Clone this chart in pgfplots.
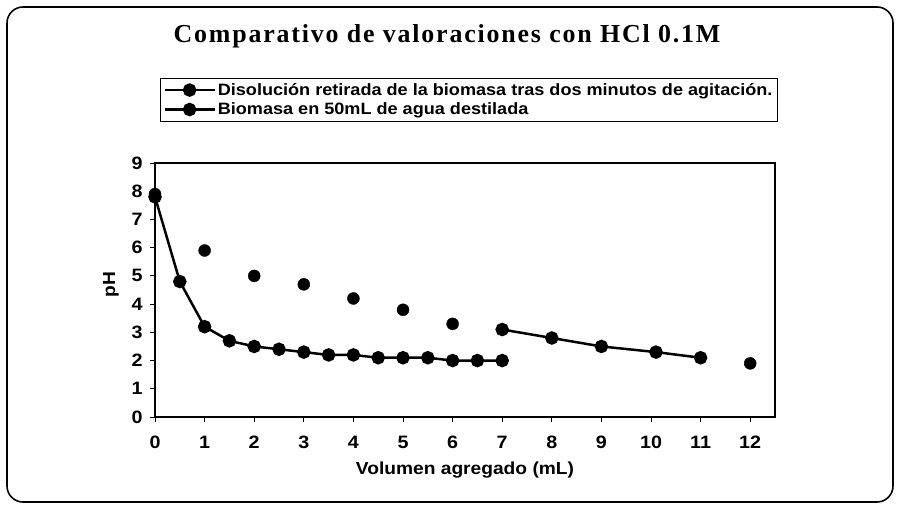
\documentclass[border=0pt]{standalone}
\usepackage{fontspec}
\setmainfont{Liberation Sans}[FakeStretch=1.1]
\newfontfamily\titlefont[LetterSpace=7]{Liberation Serif}
\usepackage{pgfplots}
\pgfplotsset{compat=1.18}
\begin{document}
\begin{tikzpicture}[x=1bp,y=1bp]
\useasboundingbox (0,0) rectangle (899,-506);
\draw[line width=1.6bp, rounded corners=16bp] (7,-7) rectangle (893,-502);
\node[font=\titlefont\bfseries\fontsize{26}{26}\selectfont, anchor=base] at (447,-43) {Comparativo de valoraciones con HCl 0.1M};
\begin{axis}[
 at={(155bp,-417bp)}, anchor=south west,
 scale only axis, width=620bp, height=254bp,
 xmin=0,xmax=12.5,ymin=0,ymax=9,
 xtick={0,...,12}, ytick={0,...,9},
 axis line style={line width=2bp},
 tick style={black, line width=1bp},
 tick align=outside, major tick length=5bp,
 xtick pos=bottom, ytick pos=left,
 ticklabel style={font=\bfseries\fontsize{18}{18}\selectfont},
 xticklabel style={yshift=-10bp, text height=13bp, text depth=0bp},
 yticklabel style={xshift=-4bp},
 /pgf/number format/assume math mode=true,
 xlabel={Volumen agregado (mL)}, ylabel={pH},
 label style={font=\bfseries\fontsize{17.5}{18}\selectfont},
 xlabel style={at={(axis description cs:0.5,-0.21)},anchor=center},
 ylabel style={at={(axis description cs:-0.071,0.52)},anchor=center},
 legend style={at={(axis description cs:0.008,1.335)}, anchor=north west, draw=black, line width=0.8bp, font=\bfseries\fontsize{16.5}{19}\selectfont, inner sep=3bp, row sep=2bp},
 legend cell align=left,
 legend image code/.code={\draw[mark repeat=2,mark phase=2,#1] plot coordinates {(0bp,0bp) (25bp,0bp) (50bp,0bp)};},
 clip=false,
]
\addplot[black, line width=2.5bp, mark=*, mark size=5.5bp, mark options={solid, fill=black}] coordinates {
(0,7.8)(0.5,4.8)(1,3.2)(1.5,2.7)(2,2.5)(2.5,2.4)(3,2.3)(3.5,2.2)(4,2.2)(4.5,2.1)(5,2.1)(5.5,2.1)(6,2.0)(6.5,2.0)(7,2.0)};
\addlegendentry{Disolución retirada de la biomasa tras dos minutos de agitación.}
\addplot[black, line width=2.5bp, mark=*, mark size=5.5bp, mark options={solid, fill=black}] coordinates {
(7,3.1)(8,2.8)(9,2.5)(10.1,2.3)(11,2.1)};
\addlegendentry{Biomasa en 50mL de agua destilada}
\addplot[black, only marks, mark=*, mark size=6bp, mark options={solid, fill=black}, forget plot] coordinates {
(0,7.9)(1,5.9)(2,5.0)(3,4.7)(4,4.2)(5,3.8)(6,3.3)(12,1.9)};
\end{axis}
\end{tikzpicture}
\end{document}
